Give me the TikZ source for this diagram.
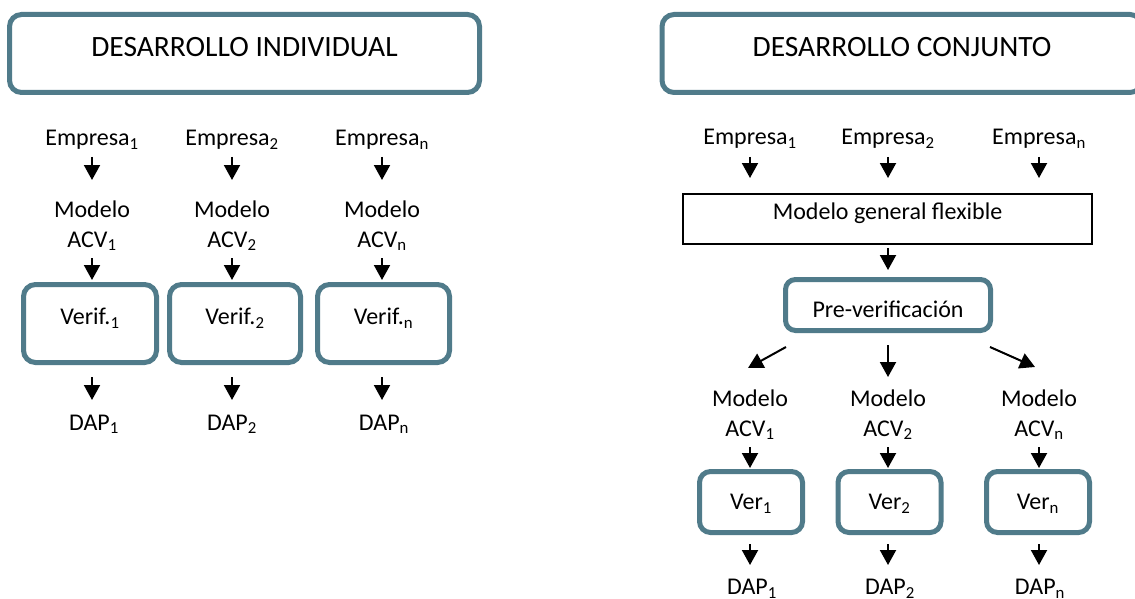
\documentclass[tikz,border=0pt]{standalone}
\usepackage{fontspec}
\setmainfont{Carlito}
\usetikzlibrary{arrows.meta}
\definecolor{boxteal}{RGB}{80,123,138}
\begin{document}
\begin{tikzpicture}[x=1pt,y=-1pt,
  every node/.style={font=\fontsize{24}{29.5}\selectfont, inner sep=0pt},
  txt/.style={text height=15.5pt, text depth=0pt},
  lbl/.style={align=center},
  titlefont/.style={font=\fontsize{29.5}{34}\selectfont},
  tbox/.style={draw=boxteal, line width=5pt, rounded corners=12pt, fill=white},
  titlebox/.style={tbox, titlefont, minimum height=78pt, text height=20pt, text depth=14pt},
  verbox/.style={tbox, minimum width=133pt, minimum height=78pt, text height=15.5pt, text depth=13.5pt},
  verbox2/.style={tbox, rounded corners=11pt, minimum width=103pt, minimum height=61pt, text height=15.5pt, text depth=0pt},
  plainbox/.style={draw=black, line width=1.8pt, minimum width=409pt, minimum height=50pt, text height=15.5pt, text depth=15.5pt},
  arr/.style={line width=2pt, -{Triangle[width=16pt,length=15pt]}},
]
\useasboundingbox (0,0) rectangle (1135,599);

% ---------- individual development ----------
\node[titlebox, minimum width=470pt] (ti) at (244.5,53.5) {DESARROLLO INDIVIDUAL};

\node[txt] (e1) at (92,138)  {Empresa\textsubscript{1}};
\node[txt] (e2) at (232,138) {Empresa\textsubscript{2}};
\node[txt] (e3) at (382,138) {Empresa\textsubscript{n}};

\node[lbl] (m1) at (92,226)  {Modelo\\ACV\textsubscript{1}};
\node[lbl] (m2) at (232,226) {Modelo\\ACV\textsubscript{2}};
\node[lbl] (m3) at (382,226) {Modelo\\ACV\textsubscript{n}};

\node[verbox] (v1) at (90,323.5)    {Verif.\textsubscript{1}};
\node[verbox, minimum width=131pt] (v2) at (235,323.5)   {Verif.\textsubscript{2}};
\node[verbox, minimum width=132pt] (v3) at (383.5,323.5) {Verif.\textsubscript{n}};

\node[txt] (d1) at (94,422.5)  {DAP\textsubscript{1}};
\node[txt] (d2) at (232,422.5) {DAP\textsubscript{2}};
\node[txt] (d3) at (384,422.5) {DAP\textsubscript{n}};

\foreach \i in {1,2,3}{
  \draw[arr, shorten <=19pt, shorten >=46pt] (e\i.center) -- (m\i.center);
  \draw[arr, shorten <=32pt, shorten >=43.5pt] (m\i.center) -- (m\i.center |- v\i.center);
  \draw[arr, shorten <=53.5pt, shorten >=22.5pt] (m\i.center |- v\i.center) -- (m\i.center |- d\i.center);
}

% ---------- joint development ----------
\node[titlebox, minimum width=480pt] (tj) at (902,53.5) {DESARROLLO CONJUNTO};

\node[txt] (f1) at (750,137)  {Empresa\textsubscript{1}};
\node[txt] (f2) at (888,137)  {Empresa\textsubscript{2}};
\node[txt] (f3) at (1039,137) {Empresa\textsubscript{n}};

\node[plainbox] (mg) at (887.5,219) {Modelo general flexible};

\node[tbox, rounded corners=10pt, minimum width=205pt, minimum height=51pt,
      text height=24pt, text depth=0pt] (pv) at (888,305) {Pre-verificación};

\node[lbl] (r1) at (750,415)  {Modelo\\ACV\textsubscript{1}};
\node[lbl] (r2) at (888,415)  {Modelo\\ACV\textsubscript{2}};
\node[lbl] (r3) at (1039,415) {Modelo\\ACV\textsubscript{n}};

\node[verbox2] (w1) at (751,502)    {Ver\textsubscript{1}};
\node[verbox2] (w2) at (889.5,502)  {Ver\textsubscript{2}};
\node[verbox2] (w3) at (1038,502)   {Ver\textsubscript{n}};

\node[txt] (g1) at (752,587)  {DAP\textsubscript{1}};
\node[txt] (g2) at (890,587)  {DAP\textsubscript{2}};
\node[txt] (g3) at (1040,587) {DAP\textsubscript{n}};

\foreach \i in {1,2,3}{
  \draw[arr, shorten <=20pt, shorten >=41pt] (f\i.center) -- (f\i.center |- mg.center);
  \draw[arr, shorten <=32pt, shorten >=34pt] (r\i.center) -- (r\i.center |- w\i.center);
  \draw[arr, shorten <=42pt, shorten >=22pt] (r\i.center |- w\i.center) -- (r\i.center |- g\i.center);
}

\draw[arr, shorten <=29pt, shorten >=35pt] (pv.center |- mg.center) -- (pv.center);

% fan-out from the pre-verification box
\draw[arr] ([shift={(-102,14)}]pv.south) -- ([shift={(-140,35)}]pv.south);
\draw[arr, shorten <=40pt, shorten >=38pt] (pv.center) -- (r2.center);
\draw[arr] ([shift={(102,14)}]pv.south) -- ([shift={(147,34)}]pv.south);

\end{tikzpicture}
\end{document}
